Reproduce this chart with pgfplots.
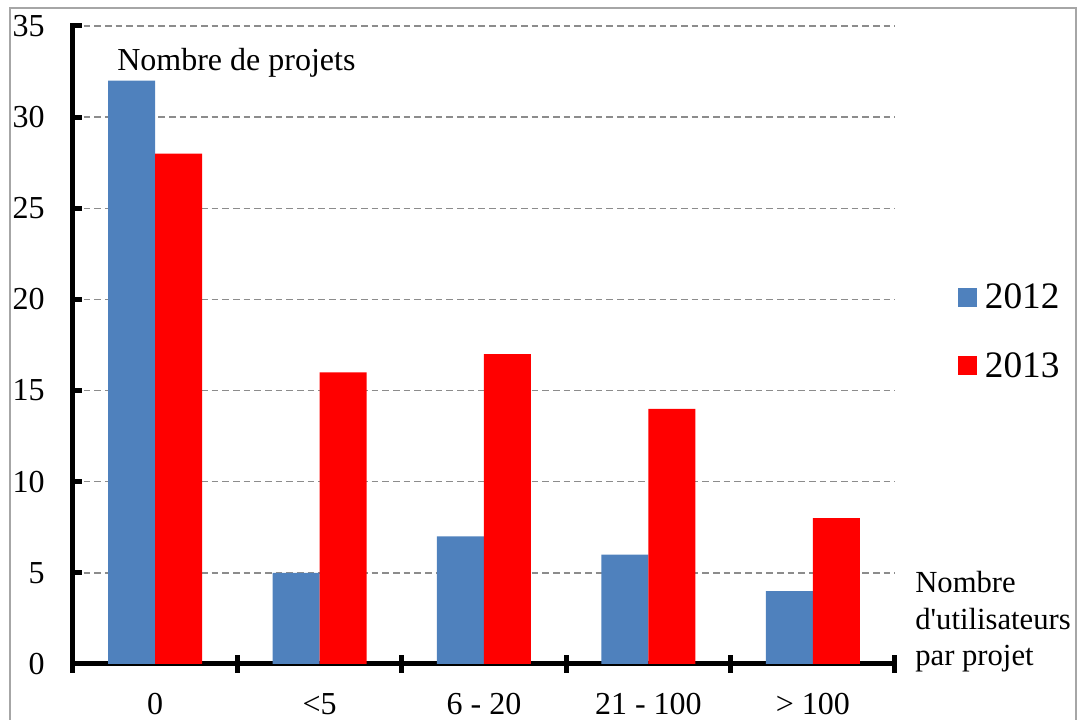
\documentclass[border=0pt]{standalone}
\usepackage{fontspec}
\setmainfont{Liberation Serif}
\usepackage{pgfplots}
\pgfplotsset{compat=1.18}
\definecolor{c12}{RGB}{79,129,189}
\definecolor{c13}{RGB}{255,0,0}
\definecolor{gridc}{RGB}{140,140,140}
\begin{document}
\begin{tikzpicture}
\useasboundingbox (-54.75pt,-42pt) rectangle (756.75pt,498pt);
\draw[line width=1.5pt, gray!70] (-47.25pt,-46pt) rectangle (752.25pt,492pt);
\begin{axis}[
  at={(0pt,0pt)}, anchor=south west,
  scale only axis, width=616.5pt, height=478.5pt,
  ybar=0pt, bar width=35.25pt,
  xmin=-0.5, xmax=4.5, ymin=0, ymax=35,
  axis x line*=bottom, axis y line*=left,
  axis line style={line width=3.75pt, black, line cap=rect},
  ytick={0,5,...,35},
  xtick={-0.5,0.5,...,4.5},
  xticklabels={0,{<5},{6 - 20},{21 - 100},{> 100},{}},
  x tick label style={xshift=61.65pt, yshift=-19.5pt, inner sep=0pt, anchor=north},
  y tick label style={xshift=-21pt, inner sep=0pt, anchor=east},
  tick label style={font=\fontsize{24}{28}\selectfont},
  /pgf/number format/assume math mode=true,
  xtick align=center, ytick align=inside,
  xtick style={/pgfplots/major tick length=13.5pt, line width=3.75pt, black},
  ytick style={/pgfplots/major tick length=7pt, line width=3.75pt, black},
  ymajorgrids,
  grid style={gridc, line width=1.1pt, dash pattern=on 5pt off 3pt},
  clip=false,
  legend style={at={(1.0766,0.60)}, anchor=north west, draw=none, fill=none,
    font=\fontsize{28}{33}\selectfont, row sep=27pt, inner sep=0pt,
    nodes={inner sep=2pt}},
  legend cell align=left,
]
\addplot[fill=c12, draw=none, legend image code/.code={\fill[c12] (0pt,-7pt) rectangle (14pt,7pt);}]
  coordinates {(0,32) (1,5) (2,7) (3,6) (4,4)};
\addplot[fill=c13, draw=none, legend image code/.code={\fill[c13] (0pt,-7pt) rectangle (14pt,7pt);}]
  coordinates {(0,28) (1,16) (2,17) (3,14) (4,8)};
\legend{\hspace{4pt}2012,\hspace{4pt}2013}
\node[anchor=base west, inner sep=0pt, font=\fontsize{24}{28}\selectfont] at (axis cs:-0.232,32.58) {Nombre de projets};
\node[anchor=north west, inner sep=0pt, align=left, font=\fontsize{23}{27.5}\selectfont] at (axis cs:4.622,5.1) {Nombre\\d\textquotesingle utilisateurs\\par projet};
\end{axis}
\end{tikzpicture}
\end{document}
